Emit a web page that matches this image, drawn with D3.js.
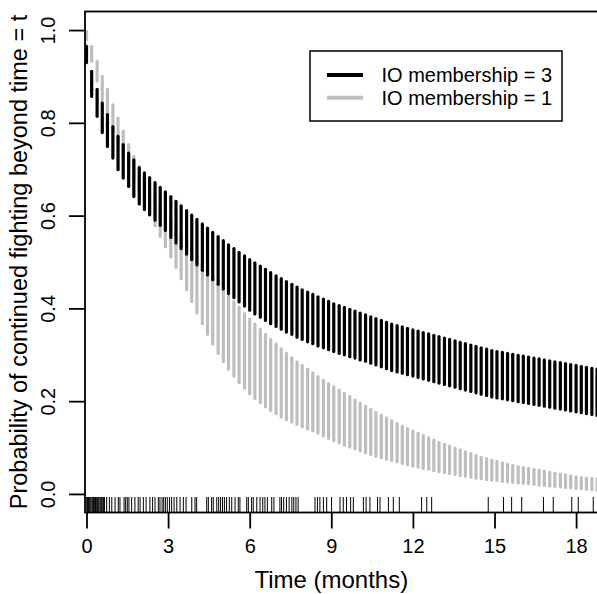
<!DOCTYPE html>
<html lang='en'>
  <head>
    <meta charset='utf-8'>
    <style>
      body { margin: 0; background: #fff; }
      svg { display: block; font-family: 'Liberation Sans', Arial, sans-serif; }
    </style>
  </head>
  <body>
    <div id='chart'></div>

    <script src='https://cdn.jsdelivr.net/npm/d3@7'></script>
    <script>
      // time grid (months) where the bands were evaluated
      var times = [0, 0.19, 0.39, 0.58, 0.77, 0.97, 1.16, 1.35, 1.55, 1.74, 1.94, 2.13, 2.32, 2.52, 2.71, 2.9,
        3.1, 3.29, 3.48, 3.68, 3.87, 4.06, 4.26, 4.45, 4.64, 4.84, 5.03, 5.22, 5.42, 5.61, 5.81, 6.0,
        6.19, 6.39, 6.58, 6.77, 6.97, 7.16, 7.35, 7.55, 7.74, 7.93, 8.13, 8.32, 8.51, 8.71, 8.9, 9.09,
        9.29, 9.48, 9.68, 9.87, 10.06, 10.26, 10.45, 10.64, 10.84, 11.03, 11.22, 11.42, 11.61, 11.8, 12.0,
        12.19, 12.38, 12.58, 12.77, 12.96, 13.16, 13.35, 13.55, 13.74, 13.93, 14.13, 14.32, 14.51, 14.71,
        14.9, 15.09, 15.29, 15.48, 15.67, 15.87, 16.06, 16.25, 16.45, 16.64, 16.83, 17.03, 17.22, 17.42,
        17.61, 17.8, 18.0, 18.19, 18.38, 18.58, 18.77];

      // IO membership = 3 (black band)
      var upper3 = [0.965, 0.911, 0.872, 0.843, 0.818, 0.792, 0.771, 0.753, 0.735, 0.72, 0.703, 0.692, 0.682,
        0.671, 0.661, 0.651, 0.641, 0.631, 0.621, 0.611, 0.601, 0.592, 0.582, 0.573, 0.564, 0.555, 0.546,
        0.537, 0.529, 0.521, 0.513, 0.505, 0.498, 0.491, 0.484, 0.477, 0.470, 0.464, 0.458, 0.452, 0.446,
        0.440, 0.435, 0.430, 0.425, 0.420, 0.415, 0.410, 0.406, 0.402, 0.398, 0.394, 0.390, 0.386, 0.382,
        0.378, 0.374, 0.370, 0.366, 0.363, 0.360, 0.357, 0.354, 0.351, 0.348, 0.345, 0.342, 0.339, 0.336,
        0.333, 0.330, 0.327, 0.324, 0.321, 0.318, 0.315, 0.312, 0.309, 0.307, 0.305, 0.303, 0.301, 0.299,
        0.297, 0.295, 0.293, 0.291, 0.289, 0.287, 0.285, 0.283, 0.281, 0.279, 0.277, 0.275, 0.273, 0.271, 0.269];
      var lower3 = [0.93, 0.857, 0.814, 0.779, 0.749, 0.724, 0.699, 0.681, 0.663, 0.641, 0.625, 0.613, 0.602,
        0.590, 0.579, 0.568, 0.553, 0.541, 0.529, 0.517, 0.505, 0.494, 0.482, 0.472, 0.462, 0.452, 0.442,
        0.432, 0.423, 0.414, 0.405, 0.396, 0.388, 0.381, 0.374, 0.367, 0.361, 0.355, 0.349, 0.344, 0.338,
        0.333, 0.328, 0.324, 0.319, 0.315, 0.311, 0.307, 0.303, 0.300, 0.296, 0.293, 0.289, 0.286, 0.282,
        0.278, 0.274, 0.270, 0.266, 0.263, 0.260, 0.257, 0.254, 0.251, 0.248, 0.245, 0.242, 0.239, 0.236,
        0.233, 0.230, 0.227, 0.224, 0.221, 0.218, 0.215, 0.212, 0.209, 0.207, 0.205, 0.203, 0.201, 0.199,
        0.197, 0.195, 0.193, 0.191, 0.189, 0.187, 0.185, 0.183, 0.181, 0.179, 0.177, 0.175, 0.173, 0.171, 0.169];

      // IO membership = 1 (grey band)
      var upper1 = [0.997, 0.965, 0.933, 0.90, 0.872, 0.839, 0.81, 0.782, 0.753, 0.728, 0.706, 0.685, 0.665,
        0.646, 0.627, 0.609, 0.592, 0.575, 0.559, 0.543, 0.527, 0.512, 0.497, 0.483, 0.469, 0.455, 0.441,
        0.428, 0.415, 0.402, 0.389, 0.377, 0.366, 0.355, 0.344, 0.333, 0.323, 0.313, 0.303, 0.294, 0.285,
        0.277, 0.269, 0.261, 0.253, 0.245, 0.238, 0.231, 0.224, 0.217, 0.210, 0.203, 0.196, 0.189, 0.182,
        0.176, 0.170, 0.164, 0.158, 0.152, 0.146, 0.141, 0.136, 0.131, 0.126, 0.121, 0.116, 0.111, 0.107,
        0.103, 0.099, 0.095, 0.091, 0.087, 0.083, 0.079, 0.076, 0.073, 0.070, 0.067, 0.064, 0.061, 0.059,
        0.057, 0.055, 0.053, 0.051, 0.049, 0.047, 0.045, 0.043, 0.041, 0.039, 0.037, 0.035, 0.034, 0.033, 0.032];
      var lower1 = [0.979, 0.933, 0.89, 0.85, 0.818, 0.782, 0.753, 0.728, 0.699, 0.674, 0.649, 0.625, 0.601,
        0.578, 0.555, 0.533, 0.511, 0.488, 0.464, 0.440, 0.415, 0.390, 0.367, 0.344, 0.323, 0.303, 0.285,
        0.269, 0.254, 0.240, 0.228, 0.216, 0.206, 0.197, 0.188, 0.180, 0.173, 0.166, 0.160, 0.155, 0.150,
        0.145, 0.140, 0.136, 0.131, 0.125, 0.120, 0.115, 0.110, 0.105, 0.101, 0.097, 0.093, 0.089, 0.085,
        0.081, 0.078, 0.075, 0.072, 0.069, 0.066, 0.063, 0.060, 0.058, 0.055, 0.053, 0.050, 0.048, 0.046,
        0.044, 0.042, 0.040, 0.038, 0.036, 0.034, 0.033, 0.031, 0.030, 0.029, 0.027, 0.026, 0.025, 0.024,
        0.023, 0.022, 0.021, 0.019, 0.018, 0.017, 0.016, 0.015, 0.014, 0.013, 0.012, 0.011, 0.010, 0.009, 0.008];

      // observed durations (rug)
      var rugTimes = [0.01, 0.03, 0.05, 0.07, 0.1, 0.13, 0.16, 0.2, 0.23, 0.26, 0.3, 0.33, 0.36, 0.4, 0.43,
        0.46, 0.5, 0.53, 0.56, 0.6, 0.63, 0.66, 0.74, 0.84, 0.93, 1.05, 1.17, 1.23, 1.38, 1.44, 1.5, 1.56,
        1.66, 1.78, 1.9, 1.97, 2.09, 2.19, 2.33, 2.43, 2.52, 2.64, 2.7, 2.78, 2.84, 2.9, 2.97, 3.05, 3.13,
        3.22, 3.32, 3.44, 3.56, 3.66, 3.87, 3.99, 4.05, 4.42, 4.48, 4.6, 4.66, 4.79, 4.86, 4.93, 5.0, 5.07,
        5.15, 5.25, 5.34, 5.46, 5.58, 5.64, 5.89, 5.95, 6.07, 6.13, 6.26, 6.38, 6.48, 6.56, 6.65, 6.81,
        6.89, 7.11, 7.17, 7.25, 7.35, 7.45, 7.55, 7.62, 7.7, 7.78, 8.4, 8.49, 8.58, 8.71, 8.83, 9.01, 9.32,
        9.44, 9.56, 9.71, 9.81, 10.18, 10.28, 10.42, 10.7, 10.79, 11.1, 11.28, 11.5, 12.32, 12.51, 12.69,
        14.77, 15.33, 15.63, 16.0, 16.8, 17.16, 17.84, 18.08, 18.63];

      var xTicks = [0, 3, 6, 9, 12, 15, 18];
      var yTicks = [0, 0.2, 0.4, 0.6, 0.8, 1.0];
      var seriesNames = ['IO membership = 3', 'IO membership = 1'];
      var seriesColors = ['#000000', '#bebebe'];

      var width = 597, height = 594;
      var plotLeft = 85, plotTop = 11.5, plotBottom = 512.5, plotRight = 640;

      var x = d3.scaleLinear().domain([0, 18]).range([86.5, 86.5 + 18 * 27.2]);
      var y = d3.scaleLinear().domain([-0.04, 1.04]).range([plotBottom, plotTop]);

      var svg = d3.select('#chart').append('svg')
          .attr('width', width)
          .attr('height', height);

      svg.append('clipPath').attr('id', 'plot-clip')
        .append('rect')
          .attr('x', plotLeft).attr('y', plotTop)
          .attr('width', plotRight - plotLeft).attr('height', plotBottom - plotTop);

      var plot = svg.append('g').attr('clip-path', 'url(#plot-clip)');

      function drawBand(lo, hi, color) {
        plot.append('g').selectAll('line')
            .data(times)
          .enter().append('line')
            .attr('x1', function (d) { return x(d); })
            .attr('x2', function (d) { return x(d); })
            .attr('y1', function (d, i) { return y(hi[i]); })
            .attr('y2', function (d, i) { return y(lo[i]); })
            .attr('stroke', color)
            .attr('stroke-width', 3.2)
            .attr('stroke-linecap', 'round');
      }

      drawBand(lower1, upper1, seriesColors[1]);
      drawBand(lower3, upper3, seriesColors[0]);

      // rug
      plot.append('g').selectAll('line')
          .data(rugTimes)
        .enter().append('line')
          .attr('x1', function (d) { return x(d); })
          .attr('x2', function (d) { return x(d); })
          .attr('y1', plotBottom)
          .attr('y2', plotBottom - 15.5)
          .attr('stroke', '#000')
          .attr('stroke-width', 1);

      // frame
      svg.append('rect')
          .attr('x', plotLeft).attr('y', plotTop)
          .attr('width', plotRight - plotLeft).attr('height', plotBottom - plotTop)
          .attr('fill', 'none')
          .attr('stroke', '#000')
          .attr('stroke-width', 1.8);

      // x axis
      var xAxis = svg.append('g')
          .attr('transform', 'translate(0,' + plotBottom + ')')
          .call(d3.axisBottom(x).tickValues(xTicks).tickSize(16).tickPadding(10).tickFormat(d3.format('d')));
      xAxis.select('.domain').remove();
      xAxis.selectAll('.tick line').attr('stroke-width', 1.8);
      xAxis.selectAll('text').attr('font-size', 20).attr('font-family', 'Liberation Sans, Arial, sans-serif');

      // y axis with rotated labels
      var yAxis = svg.append('g')
          .attr('transform', 'translate(' + plotLeft + ',0)')
          .call(d3.axisLeft(y).tickValues(yTicks).tickSize(16).tickFormat(d3.format('.1f')));
      yAxis.select('.domain').remove();
      yAxis.selectAll('.tick line').attr('stroke-width', 1.8);
      yAxis.selectAll('text')
          .attr('font-size', 20)
          .attr('font-family', 'Liberation Sans, Arial, sans-serif')
          .attr('x', null)
          .attr('text-anchor', 'middle')
          .attr('transform', 'translate(-37,0) rotate(-90)')
          .attr('dy', '0.35em');

      // axis titles
      svg.append('text')
          .attr('x', 86.5 + 9 * 27.2)
          .attr('y', 588)
          .attr('text-anchor', 'middle')
          .attr('font-size', 24)
          .text('Time (months)');

      svg.append('text')
          .attr('transform', 'translate(27,' + y(0.5) + ') rotate(-90)')
          .attr('text-anchor', 'middle')
          .attr('font-size', 23.5)
          .text('Probability of continued fighting beyond time = t');

      // legend
      var legend = svg.append('g');
      legend.append('rect')
          .attr('x', 310).attr('y', 51)
          .attr('width', 252).attr('height', 70)
          .attr('fill', '#fff')
          .attr('stroke', '#000')
          .attr('stroke-width', 1.5);
      seriesNames.forEach(function (name, i) {
        var ly = 75 + i * 22.7;
        legend.append('line')
            .attr('x1', 327).attr('x2', 363)
            .attr('y1', ly).attr('y2', ly)
            .attr('stroke', seriesColors[i])
            .attr('stroke-width', 4);
        legend.append('text')
            .attr('x', 381.5)
            .attr('y', ly)
            .attr('dy', '0.35em')
            .attr('font-size', 20)
            .text(name);
      });
    </script>
  </body>
</html>
